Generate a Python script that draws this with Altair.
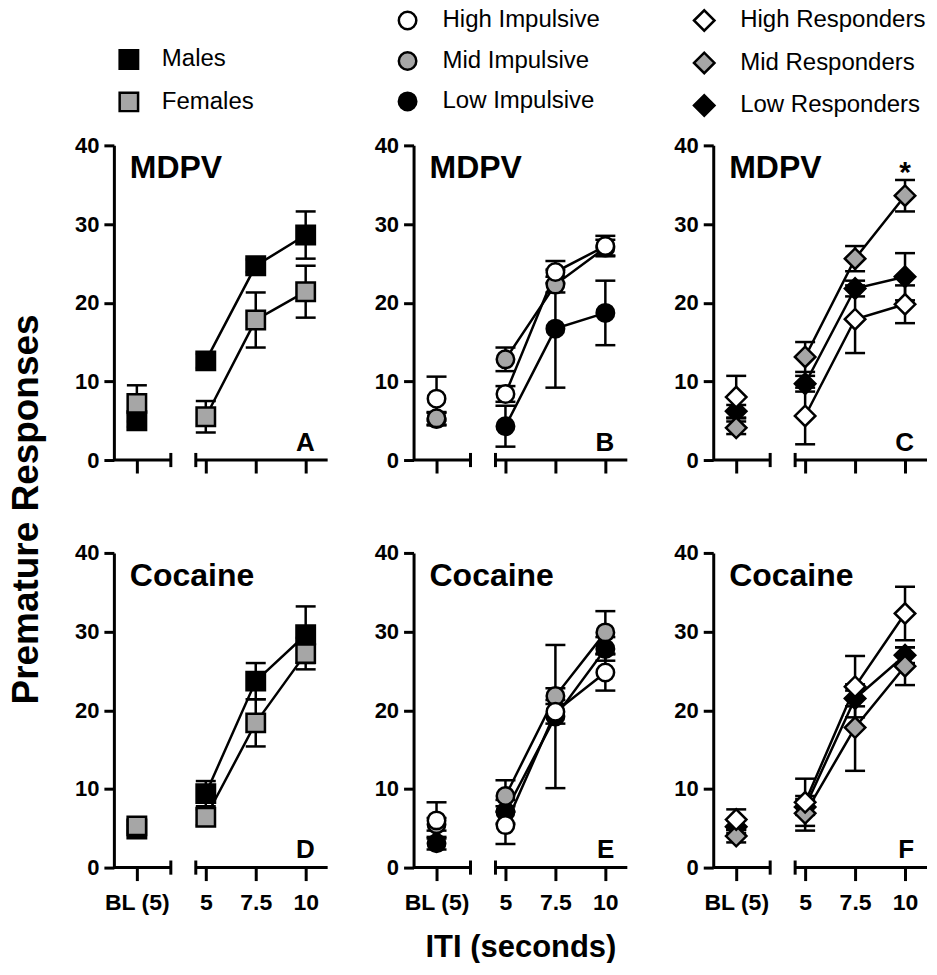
import altair as alt
import pandas as pd

# ---------------- data ----------------
ITI_LABELS = ["BL (5)", "5", "7.5", "10"]
ITI_VALUES = [None, 5.0, 7.5, 10.0]   # BL is placed on its own broken-axis segment

SEX_GROUPS = ["Males", "Females"]
IMP_GROUPS = ["High Impulsive", "Mid Impulsive", "Low Impulsive"]
RESP_GROUPS = ["High Responders", "Mid Responders", "Low Responders"]

# Panel A: MDPV, sex
males_mdpv = [5.0, 12.6, 24.7, 28.6]
males_mdpv_sem = [0.8, 0.9, 0.8, 3.0]
females_mdpv = [7.2, 5.5, 17.8, 21.4]
females_mdpv_sem = [2.3, 2.0, 3.5, 3.3]

# Panel B: MDPV, impulsivity
high_imp_mdpv = [7.8, 8.4, 23.9, 27.2]
high_imp_mdpv_sem = [2.8, 1.0, 1.4, 1.3]
mid_imp_mdpv = [5.3, 12.8, 22.3, 27.0]
mid_imp_mdpv_sem = [0.8, 1.5, 1.0, 1.0]
low_imp_mdpv = [5.2, 4.3, 16.7, 18.7]
low_imp_mdpv_sem = [0.8, 2.6, 7.5, 4.1]

# Panel C: MDPV, responders
high_resp_mdpv = [8.0, 5.6, 17.9, 19.8]
high_resp_mdpv_sem = [2.7, 3.6, 4.3, 2.4]
mid_resp_mdpv = [4.1, 13.1, 25.6, 33.6]
mid_resp_mdpv_sem = [0.8, 1.9, 1.6, 2.0]
low_resp_mdpv = [6.2, 9.7, 21.8, 23.3]
low_resp_mdpv_sem = [0.8, 1.0, 1.0, 3.0]

# Panel D: cocaine, sex
males_coc = [4.9, 9.4, 23.7, 29.6]
males_coc_sem = [0.5, 1.6, 2.3, 3.6]
females_coc = [5.3, 6.4, 18.4, 27.2]
females_coc_sem = [0.6, 1.0, 3.0, 2.0]

# Panel E: cocaine, impulsivity
high_imp_coc = [6.0, 5.4, 19.8, 24.8]
high_imp_coc_sem = [2.3, 2.4, 1.5, 2.3]
mid_imp_coc = [5.5, 9.1, 21.8, 29.9]
mid_imp_coc_sem = [0.8, 2.0, 1.0, 2.7]
low_imp_coc = [3.1, 7.1, 19.2, 27.8]
low_imp_coc_sem = [0.8, 1.5, 9.1, 1.5]

# Panel F: cocaine, responders
high_resp_coc = [6.1, 8.3, 23.0, 32.3]
high_resp_coc_sem = [1.3, 3.0, 3.9, 3.4]
mid_resp_coc = [4.0, 6.9, 17.8, 25.6]
mid_resp_coc_sem = [0.8, 2.2, 5.5, 2.4]
low_resp_coc = [5.2, 7.7, 21.5, 27.0]
low_resp_coc_sem = [0.8, 1.0, 1.0, 1.0]

# ---------------- layout / style ----------------
BL_X = 1.55
ITI_X = [BL_X if v is None else v for v in ITI_VALUES]
X_DOMAIN = [0.4, 11.1]
Y_DOMAIN = [0, 40]
SEG1_END, SEG2_START = 3.25, 4.5
PANEL_W, PANEL_H = 214, 315
FONT = "Liberation Sans"
GRAY = "#a6a6a6"
FILLS_SEX = ["#000000", GRAY]
FILLS_3 = ["#ffffff", GRAY, "#000000"]

label_expr = "datum.value < 3 ? '%s' : " % ITI_LABELS[0]
for lab, v in zip(ITI_LABELS[1:-1], ITI_VALUES[1:-1]):
    label_expr += "datum.value == %s ? '%s' : " % (v, lab)
label_expr += "'%s'" % ITI_LABELS[-1]


def make_df(groups, series):
    rows = []
    for g, (m, s) in zip(groups, series):
        for lab, xv, mv, sv in zip(ITI_LABELS, ITI_X, m, s):
            rows.append({"group": g, "iti": lab, "x": xv, "mean": mv,
                         "lo": mv - sv, "hi": mv + sv,
                         "is_bl": lab == ITI_LABELS[0]})
    return pd.DataFrame(rows)


def make_legend(shape, size, lx, ly, loff, rowpad):
    return alt.Legend(orient="none", legendX=lx, legendY=ly, direction="vertical",
                      title=None, symbolType=shape, symbolSize=size,
                      symbolStrokeColor="black", symbolStrokeWidth=2.5,
                      symbolOpacity=1, labelFont=FONT, labelFontSize=24,
                      labelColor="black", labelOffset=loff, labelLimit=400,
                      rowPadding=rowpad)


def panel(df, groups, draw_order, fills, shape, size, drug, letter,
          x_labels, legend, y_title=None, x_title=None, star=False):
    df = df.copy()
    df["z"] = df["group"].map({g: i for i, g in enumerate(draw_order)})
    df = df.sort_values(["z", "x"]).reset_index(drop=True)

    xs = alt.Scale(domain=X_DOMAIN, nice=False, zero=False)
    ys = alt.Scale(domain=Y_DOMAIN, nice=False)
    xa_kw = dict(values=ITI_X, labelExpr=label_expr, domain=False, tickSize=13,
                 tickWidth=3, tickColor="black", labels=x_labels, labelFont=FONT,
                 labelFontSize=23, labelFontWeight="bold", labelColor="black",
                 labelPadding=11, labelFlush=False, labelOverlap=False, grid=False)
    if x_title:
        xa_kw.update(title=x_title, titleFont=FONT, titleFontSize=31,
                     titleFontWeight="bold", titleColor="black", titlePadding=18)
    else:
        xa_kw.update(title=None)
    ya_kw = dict(values=[0, 10, 20, 30, 40], domain=True, domainWidth=3,
                 domainColor="black", tickSize=10, tickWidth=3, tickColor="black",
                 labelFont=FONT, labelFontSize=22, labelFontWeight="bold",
                 labelColor="black", labelPadding=5, grid=False)
    if y_title:
        ya_kw.update(title=y_title, titleFont=FONT, titleFontSize=37,
                     titleFontWeight="bold", titleColor="black", titleAngle=270,
                     titleAlign="center", titleBaseline="bottom",
                     titleX=-68, titleY=364)
    else:
        ya_kw.update(title=None)
    xa = alt.Axis(**xa_kw)
    ya = alt.Axis(**ya_kw)

    def X(f):
        return alt.X(f, type="quantitative", scale=xs, axis=xa)

    def Y(f):
        return alt.Y(f, type="quantitative", scale=ys, axis=ya)

    seg = pd.DataFrame({"x0": [X_DOMAIN[0], SEG2_START], "x1": [SEG1_END, X_DOMAIN[1]],
                        "y0": [0, 0]})
    segs = alt.Chart(seg).mark_rule(color="black", strokeWidth=3).encode(
        x=X("x0"), x2="x1", y=Y("y0"))
    brk_df = pd.DataFrame({"x": [SEG1_END, SEG2_START], "y0": [-0.9, -0.9],
                           "y1": [0.9, 0.9]})
    brk = alt.Chart(brk_df).mark_rule(color="black", strokeWidth=3).encode(
        x=X("x"), y=Y("y0"), y2="y1")

    base = alt.Chart(df)
    err = base.mark_rule(color="black", strokeWidth=2.5).encode(
        x=X("x"), y=Y("lo"), y2="hi")
    tlo = base.mark_tick(orient="horizontal", color="black", size=20,
                         thickness=2.5, opacity=1).encode(x=X("x"), y=Y("lo"))
    thi = base.mark_tick(orient="horizontal", color="black", size=20,
                         thickness=2.5, opacity=1).encode(x=X("x"), y=Y("hi"))
    line = base.transform_filter("!datum.is_bl").mark_line(
        color="black", strokeWidth=2.5).encode(x=X("x"), y=Y("mean"),
                                               detail="group:N")
    pts = base.mark_point(shape=shape, size=size, filled=True, stroke="black",
                          strokeWidth=2.5, opacity=1).encode(
        x=X("x"), y=Y("mean"),
        fill=alt.Fill("group:N", scale=alt.Scale(domain=groups, range=fills),
                      legend=legend))

    ann = pd.DataFrame({"label": [drug], "x": [1.2], "y": [35.8]})
    t_drug = alt.Chart(ann).mark_text(font=FONT, fontWeight="bold", fontSize=32,
                                      align="left", baseline="alphabetic",
                                      color="black").encode(
        x=X("x"), y=Y("y"), text="label:N")
    let = pd.DataFrame({"label": [letter], "x": [10.45], "y": [1.2]})
    t_let = alt.Chart(let).mark_text(font=FONT, fontWeight="bold", fontSize=26,
                                     align="right", baseline="alphabetic",
                                     color="black").encode(
        x=X("x"), y=Y("y"), text="label:N")
    layers = [segs, brk, err, tlo, thi, line, pts, t_drug, t_let]
    if star:
        st = pd.DataFrame({"label": ["*"], "x": [ITI_X[-1]], "y": [35.35]})
        layers.append(alt.Chart(st).mark_text(font=FONT, fontWeight="bold",
                                              fontSize=30, align="center",
                                              baseline="alphabetic",
                                              color="black").encode(
            x=X("x"), y=Y("y"), text="label:N"))
    return alt.layer(*layers).properties(width=PANEL_W, height=PANEL_H)


SQ, CI, DI = 340, 306, 420
rev_imp = IMP_GROUPS[::-1]
rev_resp = RESP_GROUPS[::-1]

pA = panel(make_df(SEX_GROUPS, [(males_mdpv, males_mdpv_sem), (females_mdpv, females_mdpv_sem)]),
           SEX_GROUPS, SEX_GROUPS, FILLS_SEX, "square", SQ, "MDPV", "A", False,
           make_legend("square", SQ, 3, -98, 21, 12.5), y_title="Premature Responses")
pB = panel(make_df(IMP_GROUPS, [(high_imp_mdpv, high_imp_mdpv_sem), (mid_imp_mdpv, mid_imp_mdpv_sem),
                                (low_imp_mdpv, low_imp_mdpv_sem)]),
           IMP_GROUPS, rev_imp, FILLS_3, "circle", CI, "MDPV", "B", False,
           make_legend("circle", CI, -18, -137, 23, 12.5))
pC = panel(make_df(RESP_GROUPS, [(high_resp_mdpv, high_resp_mdpv_sem), (mid_resp_mdpv, mid_resp_mdpv_sem),
                                 (low_resp_mdpv, low_resp_mdpv_sem)]),
           RESP_GROUPS, rev_resp, FILLS_3, "diamond", DI, "MDPV", "C", False,
           make_legend("diamond", DI, -21, -137, 24, 10.5), star=True)
pD = panel(make_df(SEX_GROUPS, [(males_coc, males_coc_sem), (females_coc, females_coc_sem)]),
           SEX_GROUPS, SEX_GROUPS, FILLS_SEX, "square", SQ, "Cocaine", "D", True, None)
pE = panel(make_df(IMP_GROUPS, [(high_imp_coc, high_imp_coc_sem), (mid_imp_coc, mid_imp_coc_sem),
                                (low_imp_coc, low_imp_coc_sem)]),
           IMP_GROUPS, rev_imp, FILLS_3, "circle", CI, "Cocaine", "E", True, None,
           x_title="ITI (seconds)")
pF = panel(make_df(RESP_GROUPS, [(high_resp_coc, high_resp_coc_sem), (mid_resp_coc, mid_resp_coc_sem),
                                 (low_resp_coc, low_resp_coc_sem)]),
           RESP_GROUPS, rev_resp, FILLS_3, "diamond", DI, "Cocaine", "F", True, None)

chart = alt.concat(pA, pB, pC, pD, pE, pF, columns=3,
                   spacing={"row": 93, "column": 86}, bounds="flush").resolve_scale(
    fill="independent").properties(
    padding={"left": 0, "top": 0, "right": 0, "bottom": 0}, background="white"
).configure_view(stroke=None)

chart.save("out.html", embed_options={"renderer": "svg", "actions": False})
